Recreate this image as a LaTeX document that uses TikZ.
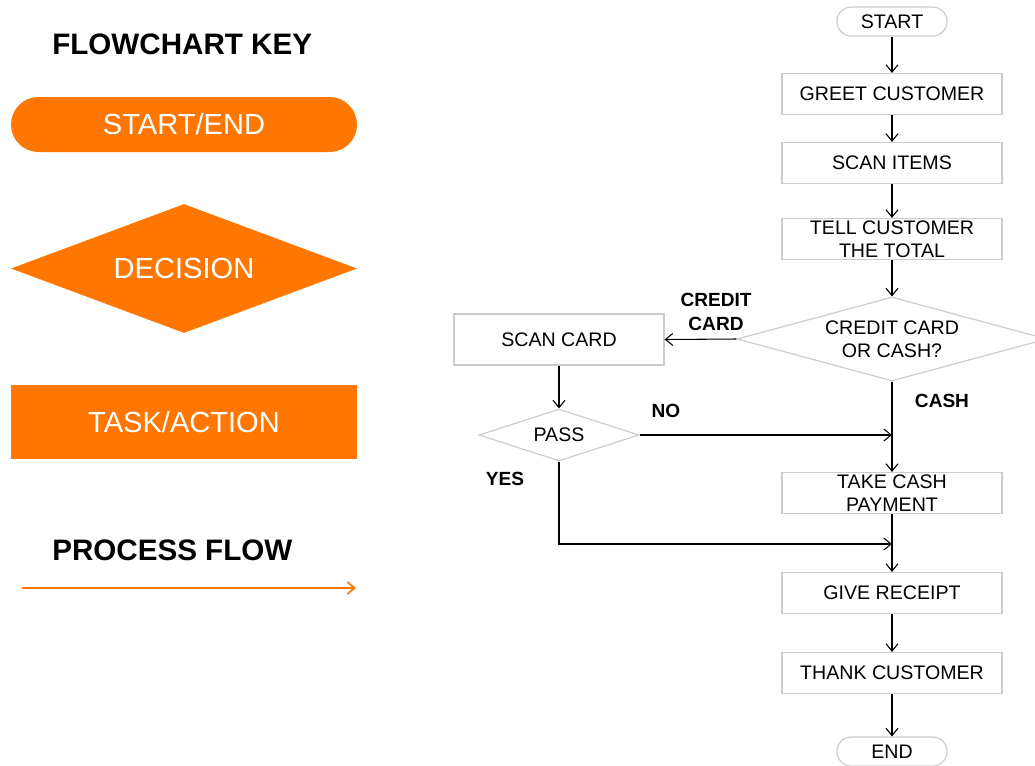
\documentclass[tikz,border=0pt]{standalone}
\usepackage{fontspec}
\setmainfont{Liberation Sans}
\usetikzlibrary{positioning,shapes.geometric,arrows.meta}
\definecolor{keyorange}{RGB}{255,119,0}
\definecolor{boxgray}{RGB}{204,204,204}

\begin{document}
\begin{tikzpicture}[
    x=0.75pt, y=-0.75pt,
    keyshape/.style={%
      fill=keyorange,
      text=white,
      inner sep=0pt,
      font=\fontsize{21.8}{26}\selectfont,
    },
    keyhead/.style={%
      anchor=west,
      inner sep=0pt,
      font=\fontsize{22.2}{26}\selectfont\bfseries,
    },
    task/.style={%
      draw=boxgray,
      line width=0.9pt,
      rectangle,
      minimum width=165pt,
      minimum height=30.75pt,
      inner sep=0pt,
      align=center,
      font=\fontsize{14.7}{17.25}\selectfont,
    },
    terminal/.style={%
      draw=boxgray,
      line width=0.9pt,
      rectangle,
      rounded corners=10.8pt,
      minimum width=82.5pt,
      minimum height=21.75pt,
      inner sep=0pt,
      font=\fontsize{14.7}{17.25}\selectfont,
    },
    decision/.style={%
      draw=boxgray,
      line width=0.9pt,
      diamond,
      inner sep=0pt,
      align=center,
      font=\fontsize{14.7}{17.25}\selectfont,
    },
    flow/.style={%
      draw,
      line width=0.8pt,
      -{Straight Barb[length=5.5pt,width=9pt]},
    },
    choice/.style={%
      inner sep=0pt,
      align=center,
      font=\fontsize{14.3}{18}\selectfont\bfseries,
    },
  ]

    \useasboundingbox (0,0) rectangle (1035,765);

    % key
    \node [keyhead] (keytitle) at (52,44) {FLOWCHART KEY};
    \node [keyshape, rectangle, rounded corners=20.6pt, minimum width=259.5pt, minimum height=41.25pt] (keyterm) at (184,124.5) {START/END};
    \node [keyshape, diamond, aspect=2.68, minimum width=259.5pt, minimum height=96.75pt] (keydec) at (184,268.5) {DECISION};
    \node [keyshape, rectangle, minimum width=259.5pt, minimum height=55.5pt] (keytask) at (184,422) {TASK/ACTION};
    \node [keyhead] (keyflow) at (52,550) {PROCESS FLOW};
    \coordinate (flowA) at (22,588);
    \coordinate (flowB) at (356,588);
    \draw [keyorange, line width=1.3pt, -{Straight Barb[length=5.5pt,width=9pt]}] (flowA) -- (flowB);

    % chart
    \node [terminal] (start) at (892,21.5) {START};
    \node [task] (greet) at (892,94) {GREET CUSTOMER};
    \node [task] (scan) at (892,163) {SCAN ITEMS};
    \node [task] (total) at (892,239) {TELL CUSTOMER\\THE TOTAL};
    \node [decision, aspect=3.69, minimum width=232.5pt, minimum height=63pt] (pay) at (892,339) {CREDIT CARD\\OR CASH?};
    \node [task, minimum width=157.5pt, minimum height=38.25pt] (card) at (559,339.5) {SCAN CARD};
    \node [decision, aspect=3.08, minimum width=120pt, minimum height=39pt] (pass) at (559,435) {PASS};
    \node [task] (cash) at (892,493) {TAKE CASH\\PAYMENT};
    \node [task] (receipt) at (892,593) {GIVE RECEIPT};
    \node [task] (thank) at (892,673) {THANK CUSTOMER};
    \node [terminal] (finish) at (892,751.5) {END};

    \coordinate (nojoin) at (pay.south |- pass.east);
    \coordinate (yesbend) at (559,544);
    \coordinate (yesjoin) at (892,544);

    \draw [flow] (start) -- (greet);
    \draw [flow] (greet) -- (scan);
    \draw [flow] (scan) -- (total);
    \draw [flow] (total) -- (pay);
    \draw [flow] (pay.west) -- (card.east);
    \draw [flow] (card) -- (pass);
    \draw [flow] (pay) -- (cash);
    \draw [flow] (pass.east) -- (nojoin);
    \draw [flow] (pass.south) -- (yesbend) -- (yesjoin);
    \draw [flow] (cash) -- (receipt);
    \draw [flow] (receipt) -- (thank);
    \draw [flow] (thank) -- (finish);

    % branch labels
    \node [choice] (lblcredit) at (716,312) {CREDIT\\CARD};
    \node [choice] (lblcash) at (942,401) {CASH};
    \node [choice] (lblno) at (666,411) {NO};
    \node [choice] (lblyes) at (505,479) {YES};
    \end{tikzpicture}
\end{document}
